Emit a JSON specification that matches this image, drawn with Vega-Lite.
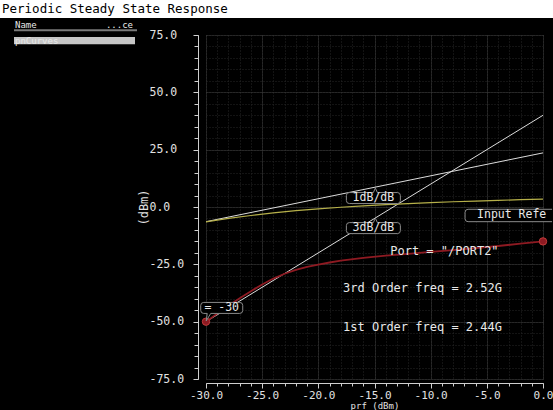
{
  "$schema": "https://vega.github.io/schema/vega-lite/v6.json",
  "background": "black",
  "padding": 0,
  "bounds": "flush",
  "spacing": 0,
  "config": {
    "view": {"stroke": null},
    "font": "DejaVu Sans Mono",
    "axis": {
      "labelFont": "DejaVu Sans Mono",
      "titleFont": "DejaVu Sans Mono",
      "labelColor": "#e2e2e2",
      "titleColor": "#e2e2e2",
      "domainColor": "#cfcfcf",
      "tickColor": "#cfcfcf",
      "titleFontWeight": "normal",
      "labelFlush": false,
      "labelOverlap": false
    }
  },
  "datasets": {
    "curves": [
      {"series": "1dB/dB", "prf": -30, "out": -6.4},
      {"series": "1dB/dB", "prf": 0, "out": 23.6},
      {"series": "3dB/dB", "prf": -30, "out": -50},
      {"series": "3dB/dB", "prf": 0, "out": 40},
      {"series": "1st Order", "prf": -30, "out": -6.5},
      {"series": "1st Order", "prf": -28, "out": -5.0},
      {"series": "1st Order", "prf": -26, "out": -3.7},
      {"series": "1st Order", "prf": -24, "out": -2.6},
      {"series": "1st Order", "prf": -22, "out": -1.6},
      {"series": "1st Order", "prf": -20, "out": -0.8},
      {"series": "1st Order", "prf": -18, "out": -0.1},
      {"series": "1st Order", "prf": -16, "out": 0.5},
      {"series": "1st Order", "prf": -14, "out": 1.0},
      {"series": "1st Order", "prf": -12, "out": 1.5},
      {"series": "1st Order", "prf": -10, "out": 1.9},
      {"series": "1st Order", "prf": -8, "out": 2.3},
      {"series": "1st Order", "prf": -6, "out": 2.6},
      {"series": "1st Order", "prf": -4, "out": 2.9},
      {"series": "1st Order", "prf": -2, "out": 3.2},
      {"series": "1st Order", "prf": 0, "out": 3.4},
      {"series": "3rd Order", "prf": -30, "out": -50},
      {"series": "3rd Order", "prf": -29, "out": -46.5},
      {"series": "3rd Order", "prf": -28, "out": -43.1},
      {"series": "3rd Order", "prf": -27, "out": -39.8},
      {"series": "3rd Order", "prf": -26, "out": -36.7},
      {"series": "3rd Order", "prf": -25, "out": -33.8},
      {"series": "3rd Order", "prf": -24, "out": -31.2},
      {"series": "3rd Order", "prf": -23, "out": -29.1},
      {"series": "3rd Order", "prf": -22, "out": -27.4},
      {"series": "3rd Order", "prf": -21, "out": -26.1},
      {"series": "3rd Order", "prf": -20, "out": -25.1},
      {"series": "3rd Order", "prf": -19, "out": -24.2},
      {"series": "3rd Order", "prf": -18, "out": -23.4},
      {"series": "3rd Order", "prf": -16, "out": -22.2},
      {"series": "3rd Order", "prf": -14, "out": -21.2},
      {"series": "3rd Order", "prf": -12, "out": -20.4},
      {"series": "3rd Order", "prf": -10, "out": -19.6},
      {"series": "3rd Order", "prf": -8, "out": -18.8},
      {"series": "3rd Order", "prf": -6, "out": -17.9},
      {"series": "3rd Order", "prf": -4, "out": -17.0},
      {"series": "3rd Order", "prf": -2, "out": -16.0},
      {"series": "3rd Order", "prf": 0, "out": -15.0}
    ],
    "boxes": [
      {"label": "1dB/dB", "kind": "slope", "prf": -15.1, "out": 3.9},
      {"label": "3dB/dB", "kind": "slope", "prf": -15.1, "out": -9.2},
      {"label": "= -30", "kind": "marker", "prf": -28.6, "out": -44.0},
      {"label": "Input Refe", "kind": "iip3", "prf": -5.87, "out": -3.7}
    ],
    "notes": [
      {"label": "Port = \"/PORT2\"", "prf": -13.6, "out": -19.1},
      {"label": "3rd Order freq = 2.52G", "prf": -17.8, "out": -35.5},
      {"label": "1st Order freq = 2.44G", "prf": -17.8, "out": -52.3}
    ]
  },
  "vconcat": [
    {
      "width": 553,
      "height": 18,
      "view": {"fill": "white", "stroke": null},
      "data": {"values": [{"title": "Periodic Steady State Response"}]},
      "mark": {"type": "text", "align": "left", "baseline": "middle", "dx": -274.5, "font": "DejaVu Sans Mono", "fontSize": 12.5, "color": "black"},
      "encoding": {"text": {"field": "title"}}
    },
    {
      "hconcat": [
        {
          "width": 137,
          "height": 378,
          "layer": [
            {
              "data": {"values": [{"row": "rule"}]},
              "mark": {"type": "point", "shape": "M-54.5,-1H68.5V1H-54.5Z", "size": 4, "filled": true, "fill": "#7a7a7a", "strokeWidth": 0, "opacity": 1},
              "encoding": {
                "y": {"field": "row", "type": "nominal", "scale": {"type": "point", "domain": ["head", "rule", "gap", "item"], "range": [7, 22.6], "padding": 0}, "axis": null}
              }
            },
            {
              "data": {"values": [{"row": "item"}]},
              "mark": {"type": "point", "shape": "M-54.5,-3.6H66.5V3.6H-54.5Z", "size": 4, "filled": true, "fill": "#c6c6c6", "strokeWidth": 0, "opacity": 1},
              "encoding": {"y": {"field": "row", "type": "nominal", "axis": null}}
            },
            {
              "data": {"values": [{"row": "head", "name": "Name"}, {"row": "item", "name": "pnCurves"}]},
              "mark": {"type": "text", "align": "left", "baseline": "middle", "dx": -53.5, "fontSize": 9, "color": "#e8e8e8"},
              "encoding": {"y": {"field": "row", "type": "nominal", "axis": null}, "text": {"field": "name"}}
            },
            {
              "data": {"values": [{"row": "head", "name": "...ce"}]},
              "mark": {"type": "text", "align": "right", "baseline": "middle", "dx": 64.5, "fontSize": 9, "color": "#e8e8e8"},
              "encoding": {"y": {"field": "row", "type": "nominal", "axis": null}, "text": {"field": "name"}}
            }
          ]
        },
        {
          "width": 337,
          "height": 344,
          "resolve": {"axis": {"x": "independent", "y": "independent"}},
          "layer": [
            {
              "data": {"name": "curves"},
              "transform": [{"filter": "datum.series === '1dB/dB' || datum.series === '3dB/dB'"}],
              "mark": {"type": "line", "color": "#dcdcdc", "strokeWidth": 1},
              "encoding": {
                "x": {
                  "field": "prf", "type": "quantitative",
                  "scale": {"domain": [-30, 0], "nice": false, "zero": false},
                  "axis": {
                    "orient": "bottom", "offset": 4, "title": null, "labels": false,
                    "values": [-30,-29,-28,-27,-26,-25,-24,-23,-22,-21,-20,-19,-18,-17,-16,-15,-14,-13,-12,-11,-10,-9,-8,-7,-6,-5,-4,-3,-2,-1,0],
                    "tickSize": 3, "domain": true,
                    "grid": true, "gridColor": "#262626", "gridDash": [1, 2]
                  }
                },
                "y": {
                  "field": "out", "type": "quantitative",
                  "scale": {"domain": [-75, 75], "nice": false, "zero": false},
                  "axis": {
                    "orient": "left", "offset": 8, "title": null, "labels": false,
                    "values": [-75,-70,-65,-60,-55,-50,-45,-40,-35,-30,-25,-20,-15,-10,-5,0,5,10,15,20,25,30,35,40,45,50,55,60,65,70,75],
                    "tickSize": 4, "domain": true,
                    "grid": true, "gridColor": "#262626", "gridDash": [1, 2]
                  }
                },
                "detail": {"field": "series"}
              }
            },
            {
              "data": {"name": "curves"},
              "transform": [{"filter": "datum.series === '1st Order'"}],
              "mark": {"type": "line", "color": "#b6b04a", "strokeWidth": 1.2},
              "encoding": {
                "x": {
                  "field": "prf", "type": "quantitative",
                  "axis": {
                    "orient": "bottom", "offset": 4,
                    "values": [-30, -25, -20, -15, -10, -5, 0],
                    "domain": false, "tickSize": 5,
                    "labelPadding": 1.5, "labelBaseline": "top", "labelFontSize": 11,
                    "labelExpr": "(datum.value < 0 ? '-' : '') + format(abs(datum.value), '.1f')",
                    "grid": true, "gridColor": "#3c3c3c", "gridDash": [1, 1],
                    "title": "prf (dBm)", "titleFontSize": 9, "titleY": 18.5, "titleBaseline": "top"
                  }
                },
                "y": {
                  "field": "out", "type": "quantitative",
                  "axis": {
                    "orient": "left", "offset": 8,
                    "values": [-75, -50, -25, 0, 25, 50, 75],
                    "domain": false, "tickSize": 5,
                    "labelAlign": "left", "labelPadding": 44, "labelBaseline": "middle", "labelFontSize": 11.5,
                    "labelExpr": "(datum.value < 0 ? '-' : '') + format(abs(datum.value), '.1f')",
                    "grid": true, "gridColor": "#3c3c3c", "gridDash": [1, 1],
                    "title": "(dBm)", "titleFontSize": 12, "titleX": -55, "titleY": 172,
                    "titleAngle": -90, "titleAlign": "center", "titleBaseline": "middle"
                  }
                }
              }
            },
            {
              "data": {"name": "curves"},
              "transform": [{"filter": "datum.series === '3rd Order'"}],
              "mark": {"type": "line", "color": "#8e1a22", "strokeWidth": 1.8},
              "encoding": {
                "x": {"field": "prf", "type": "quantitative", "axis": null},
                "y": {"field": "out", "type": "quantitative", "axis": null}
              }
            },
            {
              "data": {"name": "curves"},
              "transform": [{"filter": "datum.series === '3rd Order' && (datum.prf === -30 || datum.prf === 0)"}],
              "mark": {"type": "point", "filled": true, "fill": "#8e1a22", "stroke": "#c03a3a", "strokeWidth": 1, "size": 55, "opacity": 1},
              "encoding": {
                "x": {"field": "prf", "type": "quantitative", "axis": null},
                "y": {"field": "out", "type": "quantitative", "axis": null}
              }
            },
            {
              "data": {"name": "boxes"},
              "mark": {"type": "point", "filled": true, "fill": "black", "stroke": "#8a8a8a", "strokeWidth": 1, "size": 4, "opacity": 1},
              "encoding": {
                "x": {"field": "prf", "type": "quantitative", "axis": null},
                "y": {"field": "out", "type": "quantitative", "axis": null},
                "shape": {
                  "field": "kind", "type": "nominal", "legend": null,
                  "scale": {
                    "domain": ["slope", "marker", "iip3"],
                    "range": [
                      "M-24,-5.5H0L2,-10L4,-5.5H24Q27,-5.5 27,-2.5V2.5Q27,5.5 24,5.5H-24Q-27,5.5 -27,2.5V-2.5Q-27,-5.5 -24,-5.5Z",
                      "M-18,-5.5H18Q21,-5.5 21,-2.5V2.5Q21,5.5 18,5.5H-11L-15.5,13L-14.5,5.5H-18Q-21,5.5 -21,2.5V-2.5Q-21,-5.5 -18,-5.5Z",
                      "M75,-6.2H-9Q-12,-6.2 -12,-3.2V3.2Q-12,6.2 -9,6.2H75"
                    ]
                  }
                }
              }
            },
            {
              "data": {"name": "boxes"},
              "transform": [{"filter": "datum.kind !== 'iip3'"}],
              "mark": {"type": "text", "align": "center", "baseline": "middle", "fontSize": 11.5, "color": "#e8e8e8"},
              "encoding": {
                "x": {"field": "prf", "type": "quantitative", "axis": null},
                "y": {"field": "out", "type": "quantitative", "axis": null},
                "text": {"field": "label"}
              }
            },
            {
              "data": {"name": "boxes"},
              "transform": [{"filter": "datum.kind === 'iip3'"}],
              "mark": {"type": "text", "align": "left", "baseline": "middle", "fontSize": 11.5, "color": "#e8e8e8"},
              "encoding": {
                "x": {"field": "prf", "type": "quantitative", "axis": null},
                "y": {"field": "out", "type": "quantitative", "axis": null},
                "text": {"field": "label"}
              }
            },
            {
              "data": {"name": "notes"},
              "mark": {"type": "text", "align": "left", "baseline": "middle", "fontSize": 12, "color": "#e8e8e8"},
              "encoding": {
                "x": {"field": "prf", "type": "quantitative", "axis": null},
                "y": {"field": "out", "type": "quantitative", "axis": null},
                "text": {"field": "label"}
              }
            }
          ]
        }
      ],
      "spacing": 69,
      "bounds": "flush",
      "center": true
    }
  ]
}
